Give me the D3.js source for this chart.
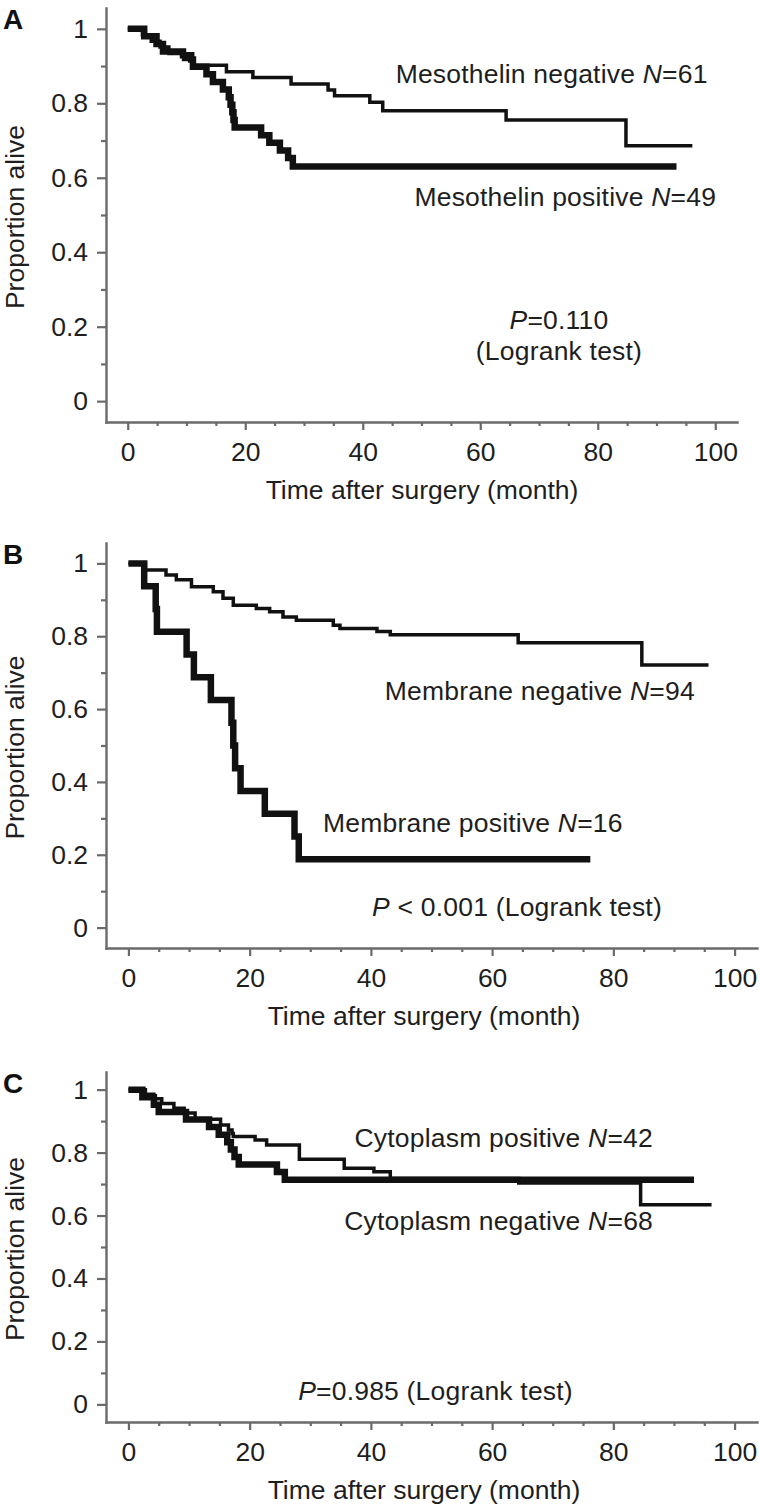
<!DOCTYPE html>
<html><head><meta charset="utf-8">
<script src="https://cdn.jsdelivr.net/npm/d3@7"></script>
<style>
html,body{margin:0;padding:0;background:#fff;}
svg{display:block;}
text{font-family:"Liberation Sans",Arial,Helvetica,sans-serif;}
</style>
</head><body>
<svg id="chart" width="760" height="1504"></svg>
<script>
// ---------- tick values / labels ----------
const xMajorTicks = [0, 20, 40, 60, 80, 100];
const xMinorTicks = [5, 10, 15, 25, 30, 35, 45, 50, 55, 65, 70, 75, 85, 90, 95];
const yMajorTicks = [0, 0.2, 0.4, 0.6, 0.8, 1];
const yMinorTicks = [0.1, 0.3, 0.5, 0.7, 0.9];
const yTickLabels = ["0", "0.2", "0.4", "0.6", "0.8", "1"];
const panelLetters = ["A", "B", "C"];
const xTitle = "Time after surgery (month)";
const yTitle = "Proportion alive";

// ---------- Panel A: Mesothelin ----------
const aNegTime = [0, 2.5, 4, 5.5, 7, 9.5, 11, 16.8, 21.3, 27.8, 34.1, 35.2, 41.2, 43.4, 64.4, 84.8, 96.1];
const aNegSurv = [1, 0.984, 0.967, 0.951, 0.934, 0.918, 0.902, 0.885, 0.869, 0.852, 0.836, 0.820, 0.803, 0.780, 0.755, 0.686, 0.686];
const aPosTime = [0, 2.8, 4.9, 6.0, 9.4, 10.8, 11.1, 13.4, 14.5, 16.2, 17.2, 17.5, 17.8, 18.0, 18.2, 22.7, 24.1, 25.9, 27.3, 28.1, 93.4];
const aPosSurv = [1, 0.980, 0.959, 0.939, 0.929, 0.918, 0.898, 0.878, 0.857, 0.837, 0.816, 0.796, 0.776, 0.755, 0.735, 0.714, 0.694, 0.673, 0.653, 0.630, 0.630];

// ---------- Panel B: Membrane ----------
const bNegTime = [0, 2.8, 6.2, 7.9, 10.4, 14.0, 15.6, 17.3, 21.1, 23.3, 25.5, 27.7, 33.8, 34.9, 41.0, 43.2, 64.3, 84.7, 95.7];
const bNegSurv = [1, 0.982, 0.968, 0.955, 0.936, 0.922, 0.904, 0.885, 0.876, 0.867, 0.853, 0.844, 0.830, 0.821, 0.813, 0.804, 0.782, 0.721, 0.721];
const bPosTime = [0, 2.6, 4.5, 4.7, 9.6, 10.8, 13.6, 17.0, 17.3, 17.6, 18.5, 22.5, 27.4, 28.1, 76.2];
const bPosSurv = [1, 0.9375, 0.875, 0.8125, 0.75, 0.6875, 0.625, 0.5625, 0.5, 0.4375, 0.375, 0.3125, 0.25, 0.1875, 0.1875];

// ---------- Panel C: Cytoplasm ----------
const cNegTime = [0, 2.8, 4.2, 5.5, 7.5, 9.2, 11.0, 15.2, 16.5, 17.1, 17.3, 20.9, 22.8, 28.2, 35.6, 40.5, 43.2, 64.4, 84.5, 96.2];
const cNegSurv = [1, 0.985, 0.971, 0.956, 0.941, 0.926, 0.906, 0.888, 0.872, 0.861, 0.851, 0.840, 0.824, 0.779, 0.750, 0.739, 0.718, 0.703, 0.634, 0.634];
const cPosTime = [0, 2.3, 4.2, 5.0, 9.5, 13.3, 14.9, 16.3, 16.9, 17.5, 18.2, 24.5, 25.8, 93.3];
const cPosSurv = [1, 0.976, 0.952, 0.929, 0.905, 0.881, 0.857, 0.833, 0.810, 0.786, 0.762, 0.738, 0.714, 0.714];

// ---------- annotation texts ----------
const aNotes = [
  [["Mesothelin negative ", 0], ["N", 1], ["=61", 0]],
  [["Mesothelin positive ", 0], ["N", 1], ["=49", 0]],
  [["P", 1], ["=0.110", 0]],
  [["(Logrank test)", 0]]
];
const bNotes = [
  [["Membrane negative ", 0], ["N", 1], ["=94", 0]],
  [["Membrane positive ", 0], ["N", 1], ["=16", 0]],
  [["P", 1], [" < 0.001 (Logrank test)", 0]]
];
const cNotes = [
  [["Cytoplasm positive ", 0], ["N", 1], ["=42", 0]],
  [["Cytoplasm negative ", 0], ["N", 1], ["=68", 0]],
  [["P", 1], ["=0.985 (Logrank test)", 0]]
];

// ---------- layout (pixels / anchors, not data) ----------
const panels = [
  { x0: 106, x1: 737, yTop: 8, yBot: 422, titleX: 422,
    series: [[aPosTime, aPosSurv, 6.5], [aNegTime, aNegSurv, 3.5]],
    notes: aNotes,
    notePos: [[45.6, 0.855, "start"], [48.8, 0.524, "start"], [73.4, 0.194, "middle"], [73.4, 0.110, "middle"]] },
  { x0: 106, x1: 757, yTop: 543, yBot: 948, titleX: 424,
    series: [[bPosTime, bPosSurv, 6.5], [bNegTime, bNegSurv, 3.5]],
    notes: bNotes,
    notePos: [[42.3, 0.624, "start"], [32.1, 0.262, "start"], [40.2, 0.032, "start"]] },
  { x0: 106, x1: 757, yTop: 1072, yBot: 1422, titleX: 424,
    series: [[cPosTime, cPosSurv, 6.5], [cNegTime, cNegSurv, 3.5]],
    notes: cNotes,
    notePos: [[37.3, 0.819, "start"], [35.6, 0.554, "start"], [28.0, 0.014, "start"]] }
];

const svg = d3.select("#chart");
svg.append("rect").attr("width", 760).attr("height", 1504).attr("fill", "#fff");

const AXIS = "#6a6a6a";
const FS = 26.5;

panels.forEach((p, pi) => {
  const g = svg.append("g");
  const x = d3.scaleLinear().domain([-3.7, 103.7]).range([p.x0, p.x1]);
  const y = d3.scaleLinear().domain([-0.056, 1.056]).range([p.yBot, p.yTop]);

  // x axis
  const xa = g.append("g").attr("transform", `translate(0,${p.yBot})`)
    .call(d3.axisBottom(x).tickValues(xMajorTicks).tickSize(8).tickSizeOuter(0).tickPadding(12).tickFormat(d3.format("d")));
  const xm = g.append("g").attr("transform", `translate(0,${p.yBot})`)
    .call(d3.axisBottom(x).tickValues(xMinorTicks).tickSize(4).tickSizeOuter(0).tickFormat(""));
  xm.select(".domain").remove();

  // y axis
  const ya = g.append("g").attr("transform", `translate(${p.x0},0)`)
    .call(d3.axisLeft(y).tickValues(yMajorTicks).tickSize(9).tickSizeOuter(0).tickPadding(9)
      .tickFormat((d, i) => yTickLabels[i]));
  const ym = g.append("g").attr("transform", `translate(${p.x0},0)`)
    .call(d3.axisLeft(y).tickValues(yMinorTicks).tickSize(5).tickSizeOuter(0).tickFormat(""));
  ym.select(".domain").remove();

  [xa, xm, ya, ym].forEach(a => {
    a.attr("font-family", null).attr("font-size", null);
    a.selectAll(".domain").attr("stroke", AXIS).attr("stroke-width", 2.4).attr("stroke-linecap", "square");
    a.selectAll(".tick line").attr("stroke", AXIS).attr("stroke-width", 2.2);
    a.selectAll(".tick text").attr("fill", "#1e1e1e").attr("font-size", FS)
      .attr("font-family", '"Liberation Sans", Arial, sans-serif');
  });

  // axis titles
  g.append("text").attr("x", p.titleX).attr("y", p.yBot + 77)
    .attr("text-anchor", "middle").attr("font-size", FS).attr("fill", "#1e1e1e").text(xTitle);
  g.append("text").attr("transform", `translate(24,${(p.yTop + p.yBot) / 2 + 2}) rotate(-90)`)
    .attr("text-anchor", "middle").attr("font-size", FS).attr("fill", "#1e1e1e").text(yTitle);

  // panel letter
  g.append("text").attr("x", 3).attr("y", p.yTop + 21).attr("font-size", 28)
    .attr("font-weight", "bold").attr("fill", "#111").text(panelLetters[pi]);

  // survival curves
  const line = d3.line().x(d => x(d[0])).y(d => y(d[1])).curve(d3.curveStepAfter);
  p.series.forEach(([ts, ss, w]) => {
    const pts = ts.map((t, i) => [t, ss[i]]);
    g.append("path").attr("d", line(pts)).attr("fill", "none")
      .attr("stroke", "#111").attr("stroke-width", w)
      .attr("stroke-linejoin", "miter").attr("stroke-linecap", "butt");
  });

  // annotations
  p.notes.forEach((parts, ni) => {
    const [t, v, anchor] = p.notePos[ni];
    const tx = g.append("text").attr("x", x(t)).attr("y", y(v))
      .attr("text-anchor", anchor).attr("font-size", FS).attr("fill", "#1e1e1e")
      .attr("letter-spacing", 0.2);
    parts.forEach(([s, it]) => {
      tx.append("tspan").attr("font-style", it ? "italic" : "normal").text(s);
    });
  });
});
</script>
</body></html>
